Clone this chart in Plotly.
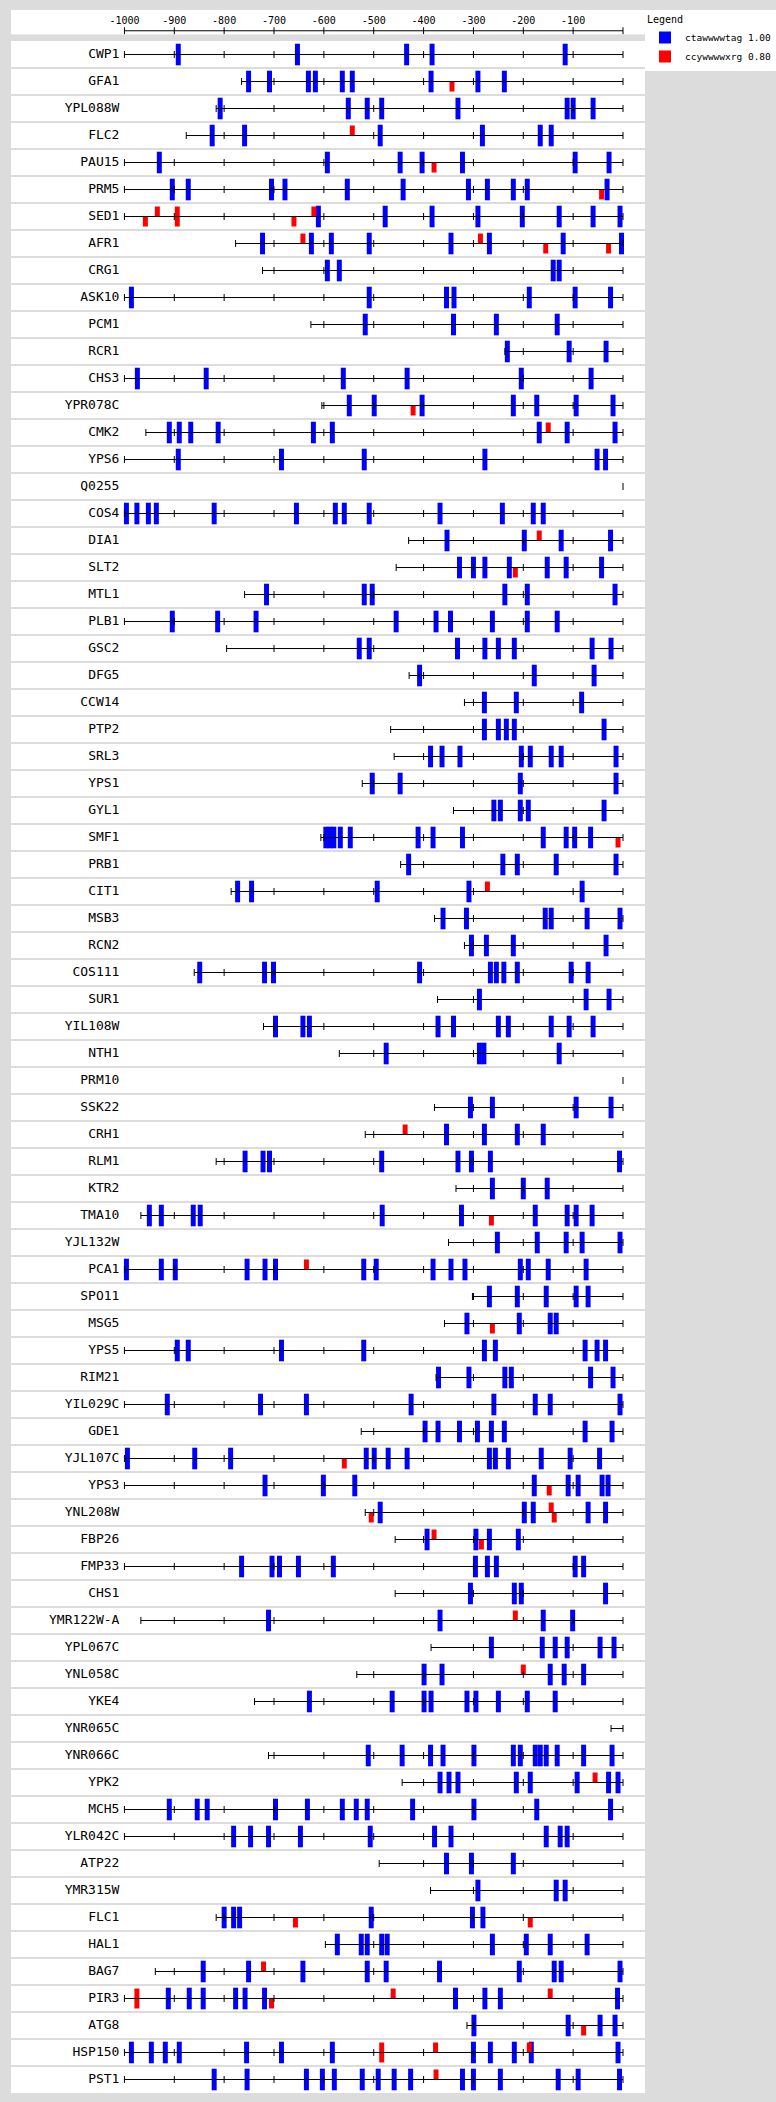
import plotly.graph_objects as go

# =========================================================
# DADOS (posições relativas ao ATG, em pb)
# =========================================================
genes = [
    "CWP1", "GFA1", "YPL088W", "FLC2", "PAU15", "PRM5", "SED1",
    "AFR1", "CRG1", "ASK10", "PCM1", "RCR1", "CHS3", "YPR078C",
    "CMK2", "YPS6", "Q0255", "COS4", "DIA1", "SLT2", "MTL1",
    "PLB1", "GSC2", "DFG5", "CCW14", "PTP2", "SRL3", "YPS1",
    "GYL1", "SMF1", "PRB1", "CIT1", "MSB3", "RCN2", "COS111",
    "SUR1", "YIL108W", "NTH1", "PRM10", "SSK22", "CRH1", "RLM1",
    "KTR2", "TMA10", "YJL132W", "PCA1", "SPO11", "MSG5", "YPS5",
    "RIM21", "YIL029C", "GDE1", "YJL107C", "YPS3", "YNL208W", "FBP26",
    "FMP33", "CHS1", "YMR122W-A", "YPL067C", "YNL058C", "YKE4", "YNR065C",
    "YNR066C", "YPK2", "MCH5", "YLR042C", "ATP22", "YMR315W", "FLC1",
    "HAL1", "BAG7", "PIR3", "ATG8", "HSP150", "PST1",
]

starts = [
    -1000, -765, -816, -876, -1000, -1000, -1000,
    -777, -723, -1000, -626, -237, -1000, -604,
    -957, -1000, 0, -1000, -430, -455, -759,
    -1000, -795, -429, -318, -466, -459, -523,
    -340, -606, -446, -786, -378, -318, -860,
    -372, -721, -569, 0, -378, -517, -816,
    -335, -967, -350, -1000, -302, -358, -1000,
    -375, -1000, -525, -1000, -1000, -517, -457,
    -1000, -457, -967, -385, -534, -739, -24,
    -711, -443, -1000, -1000, -489, -386, -816,
    -597, -938, -1000, -313, -1000, -1000,
]

# ctawwwwtag (palindrômico -> centrado na linha)
blue_sites = [
    [-892, -653, -434, -383, -116],
    [-751, -709, -631, -617, -563, -543, -385, -291, -238],
    [-808, -551, -513, -484, -331, -112, -100, -60],
    [-824, -759, -487, -282, -166, -144],
    [-930, -593, -447, -403, -322, -96, -28],
    [-904, -872, -705, -678, -553, -441, -310, -272, -220, -192, -32],
    [-611, -477, -383, -291, -202, -128, -60, -6],
    [-723, -625, -585, -509, -345, -268, -120, -3],
    [-593, -569, -140, -128],
    [-986, -509, -354, -339, -188, -96, -25],
    [-517, -340, -254, -132],
    [-232, -108, -34],
    [-974, -836, -561, -433, -204, -64],
    [-549, -499, -403, -220, -173, -94, -20],
    [-910, -890, -867, -812, -621, -583, -168, -112, -16],
    [-892, -685, -519, -277, -52, -35],
    [],
    [-996, -975, -952, -936, -820, -655, -577, -559, -509, -367, -242, -180, -160],
    [-353, -198, -124, -25],
    [-328, -300, -277, -228, -152, -114, -43],
    [-715, -519, -503, -237, -192, -16],
    [-904, -813, -736, -455, -375, -346, -262, -192, -132],
    [-529, -509, -332, -277, -250, -218, -62, -24],
    [-408, -178, -58],
    [-278, -214, -83],
    [-278, -250, -234, -218, -38],
    [-386, -363, -327, -204, -186, -144, -124, -14],
    [-503, -447, -206, -14],
    [-259, -246, -206, -190, -38],
    [-596, -588, -580, -567, -547, -411, -381, -322, -160, -114, -97, -65],
    [-430, -241, -212, -134, -14],
    [-773, -745, -493, -309, -82],
    [-361, -314, -156, -144, -72, -6],
    [-304, -274, -220, -34],
    [-849, -719, -701, -408, -266, -254, -239, -212, -104, -70],
    [-288, -74, -28],
    [-697, -642, -629, -371, -340, -250, -230, -144, -108, -60],
    [-475, -288, -279, -128],
    [],
    [-306, -262, -94, -24],
    [-354, -278, -212, -160],
    [-758, -722, -709, -484, -331, -304, -266, -7],
    [-262, -200, -152],
    [-950, -926, -862, -848, -483, -324, -176, -112, -94, -62],
    [-252, -172, -114, -82, -6],
    [-996, -926, -898, -754, -718, -697, -520, -495, -381, -345, -317, -206, -190, -150, -74],
    [-268, -212, -154, -94, -70],
    [-313, -208, -146, -134],
    [-894, -872, -685, -520, -278, -256, -76, -52, -35],
    [-370, -309, -237, -224, -65, -20],
    [-914, -727, -635, -425, -259, -176, -146, -6],
    [-397, -371, -328, -292, -264, -238, -76, -22],
    [-994, -859, -787, -515, -499, -471, -433, -268, -256, -230, -164, -106, -47],
    [-718, -601, -538, -178, -110, -90, -42, -30],
    [-487, -198, -180, -70, -35],
    [-393, -295, -268, -210],
    [-765, -704, -689, -651, -581, -296, -272, -254, -96, -79],
    [-306, -218, -204, -35],
    [-711, -367, -160, -101],
    [-264, -162, -136, -112, -46, -18],
    [-399, -363, -146, -118, -79],
    [-629, -463, -399, -385, -313, -295, -250, -192, -136],
    [],
    [-511, -443, -386, -361, -299, -220, -206, -176, -166, -154, -132, -79, -22],
    [-367, -349, -331, -214, -186, -92, -29, -10],
    [-910, -854, -834, -697, -633, -563, -535, -513, -422, -299, -173, -25],
    [-781, -747, -711, -647, -507, -378, -345, -154, -126, -112],
    [-354, -304, -220],
    [-291, -134, -116],
    [-800, -781, -769, -505, -302, -281],
    [-573, -525, -513, -484, -473, -262, -194, -146, -72],
    [-842, -751, -642, -513, -475, -368, -208, -138, -124, -6],
    [-912, -870, -842, -777, -758, -719, -336, -277, -246, -11],
    [-299, -110, -46, -16],
    [-986, -946, -918, -890, -755, -685, -583, -300, -266, -218, -184, -10],
    [-820, -754, -635, -603, -579, -523, -491, -459, -426, -322, -300, -246, -130, -90, -7],
]

# ccywwwwxrg: fita direta (acima) / reversa (abaixo)
red_up = {
    "FLC2": [-543], "SED1": [-934, -894, -620], "AFR1": [-642, -286],
    "CMK2": [-150], "DIA1": [-168], "CIT1": [-272], "CRH1": [-437],
    "PCA1": [-635], "YNL208W": [-144], "FBP26": [-379], "YMR122W-A": [-216],
    "YNL058C": [-200], "YPK2": [-56], "BAG7": [-721],
    "PIR3": [-975, -461, -146], "HSP150": [-484, -376, -188], "PST1": [-375],
}
red_down = {
    "GFA1": [-343], "PAU15": [-379], "PRM5": [-43], "SED1": [-958, -894, -660],
    "AFR1": [-155, -29], "YPR078C": [-421], "SLT2": [-216], "SMF1": [-10],
    "TMA10": [-264], "MSG5": [-262], "YJL107C": [-559], "YPS3": [-148],
    "YNL208W": [-505, -138], "FBP26": [-284], "FLC1": [-657, -186],
    "PIR3": [-975, -705], "ATG8": [-79], "HSP150": [-484],
}

axis_ticks = list(range(-1000, 1, 100))
axis_labels = [str(t) for t in axis_ticks if t < 0]

# =========================================================
# CONFIGURAÇÃO VISUAL
# =========================================================
BLUE = "#0000ff"
RED = "#ff0000"
GREY = "#dcdcdc"
FONT = "DejaVu Sans Mono"
SITE_W = 10      # largura do motivo (pb)
BLUE_H = 0.8     # altura em unidades de linha
RED_H = 0.37

n = len(genes)

# linhas dos promotores + marcas a cada 100 pb
line_x, line_y, tick_x, tick_y = [], [], [], []
for i, s in enumerate(starts):
    line_x += [s, 0, None]
    line_y += [i, i, None]
    marks = {s, 0} | {m for m in range(-1000, 0, 100) if m > s}
    tick_x += sorted(marks)
    tick_y += [i] * len(marks)

blue_x, blue_base = [], []
for i, xs in enumerate(blue_sites):
    for x in xs:
        blue_x.append(x)
        blue_base.append(i - BLUE_H / 2)

red_x, red_base = [], []
for i, g in enumerate(genes):
    for x in red_up.get(g, []):
        red_x.append(x)
        red_base.append(i - RED_H)
    for x in red_down.get(g, []):
        red_x.append(x)
        red_base.append(i)

fig = go.Figure()

fig.add_trace(go.Scatter(x=line_x, y=line_y, mode="lines",
                         line=dict(color="black", width=1),
                         showlegend=False, hoverinfo="skip"))
fig.add_trace(go.Scatter(x=tick_x, y=tick_y, mode="markers",
                         marker=dict(symbol="line-ns", size=5,
                                     line=dict(color="black", width=1)),
                         showlegend=False, hoverinfo="skip"))

fig.add_trace(go.Bar(x=blue_x, y=[BLUE_H] * len(blue_x), base=blue_base,
                     width=SITE_W, marker=dict(color=BLUE, line=dict(width=0)),
                     name="ctawwwwtag 1.00"))
fig.add_trace(go.Bar(x=red_x, y=[RED_H] * len(red_x), base=red_base,
                     width=SITE_W, marker=dict(color=RED, line=dict(width=0)),
                     name="ccywwwwxrg 0.80"))

# nomes dos genes
fig.add_trace(go.Scatter(x=[-1010] * n, y=list(range(n)), text=genes,
                         mode="text", textposition="middle left",
                         textfont=dict(family=FONT, size=13, color="black"),
                         showlegend=False, hoverinfo="skip"))

# régua superior
fig.add_trace(go.Scatter(x=[axis_ticks[0], axis_ticks[-1]], y=[3.6, 3.6],
                         mode="lines", line=dict(color="black", width=1),
                         yaxis="y2", showlegend=False, hoverinfo="skip"))
fig.add_trace(go.Scatter(x=axis_ticks, y=[3.6] * len(axis_ticks), mode="markers",
                         marker=dict(symbol="line-ns", size=5,
                                     line=dict(color="black", width=1)),
                         yaxis="y2", showlegend=False, hoverinfo="skip"))
fig.add_trace(go.Scatter(x=axis_ticks[:-1], y=[13.3] * len(axis_labels),
                         text=axis_labels, mode="text", textposition="middle center",
                         textfont=dict(family=FONT, size=10, color="black"),
                         yaxis="y2", showlegend=False, hoverinfo="skip"))

fig.update_layout(
    width=776,
    height=2102,
    margin=dict(l=11, r=131, t=10, b=9, autoexpand=False),
    paper_bgcolor=GREY,
    plot_bgcolor="white",
    barmode="overlay",
    xaxis=dict(range=[-1227.5, 44.1], showgrid=False, zeroline=False,
               showticklabels=False, ticks="", fixedrange=True),
    yaxis=dict(domain=[0, 0.98511], range=[n - 0.5, -0.5],
               tickvals=[i + 0.5 for i in range(n - 1)], showgrid=True,
               gridcolor=GREY, gridwidth=2, showticklabels=False,
               ticks="", zeroline=False, fixedrange=True),
    yaxis2=dict(domain=[0.98829, 1], range=[0, 24.3], anchor="x",
                showgrid=False, zeroline=False, showticklabels=False,
                ticks="", fixedrange=True),
    legend=dict(
        title=dict(text="Legend", font=dict(family=FONT, size=10, color="black")),
        font=dict(family=FONT, size=9.5, color="black"),
        bgcolor="white",
        x=1.0, y=1, xanchor="left", yanchor="top",
        itemwidth=30,
        tracegroupgap=0,
    ),
)

# tira a margem padrão do <body> para o gráfico ocupar a janela toda
fig.write_html("out.html",
               config={"displayModeBar": False},
               post_script="document.body.style.margin='0';"
                           "document.body.style.background='#dcdcdc';")
